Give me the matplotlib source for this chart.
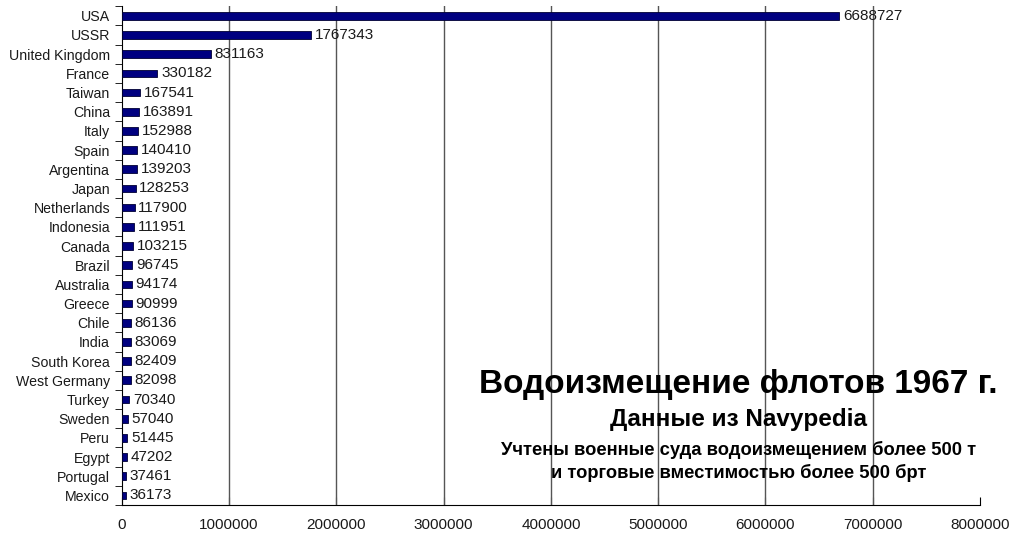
import numpy as np
import matplotlib.pyplot as plt

plt.rcParams['font.family'] = ['Liberation Sans', 'DejaVu Sans']

countries = ['USA', 'USSR', 'United Kingdom', 'France', 'Taiwan', 'China', 'Italy',
             'Spain', 'Argentina', 'Japan', 'Netherlands', 'Indonesia', 'Canada',
             'Brazil', 'Australia', 'Greece', 'Chile', 'India', 'South Korea',
             'West Germany', 'Turkey', 'Sweden', 'Peru', 'Egypt', 'Portugal', 'Mexico']
tonnage = [6688727, 1767343, 831163, 330182, 167541, 163891, 152988,
           140410, 139203, 128253, 117900, 111951, 103215,
           96745, 94174, 90999, 86136, 83069, 82409,
           82098, 70340, 57040, 51445, 47202, 37461, 36173]
xticks = [0, 1000000, 2000000, 3000000, 4000000, 5000000, 6000000, 7000000, 8000000]

fig = plt.figure(figsize=(10.24, 5.41), dpi=100)
ax = fig.add_axes([0.119, 0.0665, 0.838, 0.922])

y = np.arange(len(countries))
ax.barh(y, tonnage, height=0.4, color='#000080', edgecolor='#000033', linewidth=0.6, zorder=3)
for yi, v in zip(y, tonnage):
    ax.text(v + 35000, yi, str(v), va='center', ha='left', fontsize=11, color='#1a1a1a', zorder=4)

for g in xticks[1:-1]:
    ax.axvline(g, color='#555555', linewidth=1.0, zorder=2)

ax.set_ylim(len(countries) - 0.5, -0.5)
ax.set_xlim(0, 8000000)
ax.set_yticks(y)
ax.set_yticklabels(countries, fontsize=10.2, color='#1a1a1a')
ax.set_yticks(np.arange(-0.5, len(countries), 1), minor=True)
ax.tick_params(axis='y', which='major', length=0, pad=8.5)
ax.tick_params(axis='y', which='minor', length=5, direction='out')
ax.set_xticks(xticks)
ax.set_xticklabels([str(t) for t in xticks], fontsize=11, color='#1a1a1a')
ax.tick_params(axis='x', direction='in', length=6, pad=9)
ax.spines['top'].set_visible(False)
ax.spines['right'].set_visible(False)

fig.text(0.721, 0.290, 'Водоизмещение флотов 1967 г.', ha='center', va='center',
         fontsize=24, fontweight='bold')
fig.text(0.721, 0.224, 'Данные из Navypedia', ha='center', va='center',
         fontsize=17.5, fontweight='bold')
fig.text(0.721, 0.168, 'Учтены военные суда водоизмещением более 500 т', ha='center',
         va='center', fontsize=13.2, fontweight='bold')
fig.text(0.721, 0.125, 'и торговые вместимостью более 500 брт', ha='center',
         va='center', fontsize=13.2, fontweight='bold')

fig.savefig('out.png', dpi=100)
